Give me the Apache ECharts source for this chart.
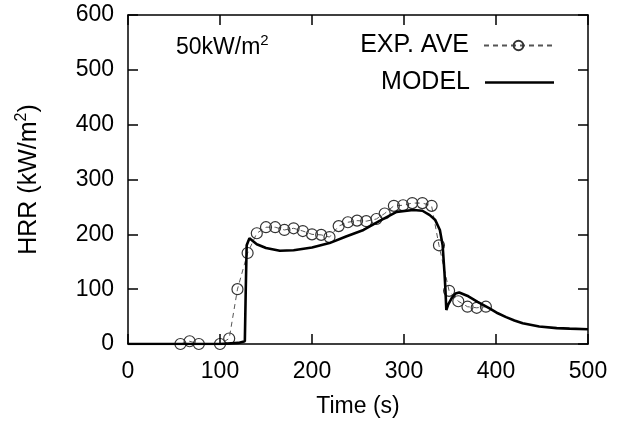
<!DOCTYPE html>
<html>
<head>
<meta charset="utf-8">
<script src="https://cdn.jsdelivr.net/npm/echarts@6/dist/echarts.min.js"></script>
<style>html,body{margin:0;padding:0;background:#fff}#c{width:623px;height:425px}</style>
</head>
<body>
<div id="c"></div>
<script>
const xTicks = [0, 100, 200, 300, 400, 500];
const yTicks = [0, 100, 200, 300, 400, 500, 600];
const expTime = [57,67,77,100,110,119,130,140,150,160,170,180,190,200,210,219,229,239,249,259,270,279,289,299,309,320,330,338,349,359,369,379,389];
const expHRR  = [0,5,0,0,10,100,166,202,213,213,208,211,206,200,199,195,215,222,225,224,228,238,252,253,257,257,252,180,97,78,68,66,68];
const modelTime = [0,100,120,127,128,129,132,140,150,165,180,200,219,237,256,274,292,310,320,328,334,339,342,344,345,346,348,352,356,360,370,380,393,402,411,420,429,447,466,480,500];
const modelHRR  = [0,0,2,5,100,180,193,182,175,170,171,176,184,196,208,225,241,244.5,243,235,226,208,180,130,100,62,72,84,92,94,87,77,65,56,49,43,38,32,29,28,27];

const expData = expTime.map((t, i) => [t, expHRR[i]]);
const modelData = modelTime.map((t, i) => [t, modelHRR[i]]);
const FONT = 'Liberation Sans';
const FS = 23;
const LFS = 25;
const GRID = {left: 128, right: 35, top: 15, bottom: 81};

const chart = echarts.init(document.getElementById('c'), null, {renderer: 'canvas'});
const axisLine = {show: true, onZero: false, lineStyle: {color: '#000', width: 1.5}};
const tickIn = {show: true, inside: true, length: 10, lineStyle: {color: '#000', width: 1.5}};
const xBase = {type: 'value', min: 0, max: 500, interval: 100, splitLine: {show: false}, z: 10};
const yBase = {type: 'value', min: 0, max: 600, interval: 100, splitLine: {show: false}, z: 10};
chart.setOption({
  animation: false,
  backgroundColor: '#fff',
  textStyle: {fontFamily: FONT},
  grid: Object.assign({show: false}, GRID),
  title: {
    text: '50kW/m{sup|2}',
    left: 171, top: 28,
    textStyle: {fontFamily: FONT, fontSize: FS, fontWeight: 'normal', color: '#000',
      rich: {sup: {fontFamily: FONT, fontSize: 15, verticalAlign: 'top', padding: [0,0,14,0], color: '#000'}}}
  },
  legend: [
    {data: ['EXP. AVE'], orient: 'vertical', align: 'right', right: 64, top: 28,
     itemWidth: 69, itemHeight: 12, textStyle: {fontFamily: FONT, fontSize: LFS, color: '#000', padding: [0, 10, 0, 0]}},
    {data: [{name: 'MODEL', icon: 'rect'}], orient: 'vertical', align: 'right', right: 64, top: 65,
     itemWidth: 69, itemHeight: 2.6, textStyle: {fontFamily: FONT, fontSize: LFS, color: '#000', padding: [0, 10, 0, 0]}}
  ],
  xAxis: [
    Object.assign({}, xBase, {position: 'bottom',
     name: 'Time (s)', nameLocation: 'middle', nameGap: 51,
     nameTextStyle: {fontFamily: FONT, fontSize: FS, color: '#000'},
     axisLine: axisLine, axisTick: tickIn,
     axisLabel: {fontFamily: FONT, fontSize: FS, color: '#000', margin: 16, formatter: v => xTicks.includes(v) ? String(v) : ''}}),
    Object.assign({}, xBase, {position: 'top', axisLine: axisLine, axisTick: tickIn, axisLabel: {show: false}})
  ],
  yAxis: [
    Object.assign({}, yBase, {position: 'left',
     name: 'HRR (kW/m{sup|2})', nameLocation: 'middle', nameGap: 84,
     nameTextStyle: {fontFamily: FONT, fontSize: 25, color: '#000',
       rich: {sup: {fontFamily: FONT, fontSize: 16, color: '#000', verticalAlign: 'top', padding: [0,0,14,0]}}},
     axisLine: axisLine, axisTick: tickIn,
     axisLabel: {fontFamily: FONT, fontSize: FS, color: '#000', margin: 14, formatter: v => yTicks.includes(v) ? String(v) : ''}}),
    Object.assign({}, yBase, {position: 'right', axisLine: axisLine, axisTick: tickIn, axisLabel: {show: false}})
  ],
  series: [
    {name: 'EXP. AVE', type: 'line', data: expData, xAxisIndex: 0, yAxisIndex: 0,
     symbol: 'circle', symbolSize: 11, showAllSymbol: true,
     lineStyle: {color: '#555', width: 1, type: [5, 4]},
     itemStyle: {color: 'rgba(255,255,255,0)', borderColor: '#333', borderWidth: 1.2},
     z: 2},
    {name: 'MODEL', type: 'line', data: modelData, xAxisIndex: 0, yAxisIndex: 0,
     symbol: 'none', smooth: false,
     lineStyle: {color: '#000', width: 2.6},
     itemStyle: {color: '#000'},
     z: 3}
  ]
});
</script>
</body>
</html>
